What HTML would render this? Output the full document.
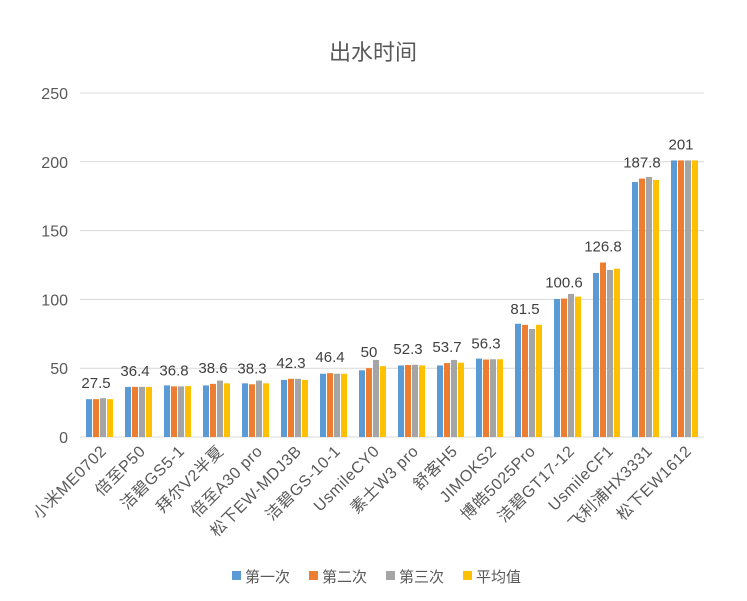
<!DOCTYPE html>
<html><head><meta charset="utf-8"><style>
body{margin:0;background:#fff;}
svg{display:block;font-family:"Liberation Sans","Noto Sans CJK SC",sans-serif;}
</style></head><body>
<svg id="chart" width="747" height="601">
<rect width="747" height="601" fill="#fff"/>
<text x="373" y="60" text-anchor="middle" font-size="22" fill="#595959">出水时间</text>
<g id="grid"></g><g id="bars"></g><g id="labels"></g><g id="xlabels"></g>
<g id="legend"></g>
</svg>
<script>
const categories=["小米ME0702","倍至P50","洁碧GS5-1","拜尔V2半夏","倍至A30 pro","松下EW-MDJ3B","洁碧GS-10-1","UsmileCY0","素士W3 pro","舒客H5","JIMOKS2","博皓5025Pro","洁碧GT17-12","UsmileCF1","飞利浦HX3331","松下EW1612"];
const series1=[27.5,36.4,37.5,37.5,39,41.5,46,48.5,52,52,57,82.3,100.3,119.2,185.3,201];
const series2=[27.5,36.4,36.8,38.6,38.3,42.3,46.4,50,52.3,53.7,56.3,81.5,100.6,126.8,187.8,201];
const series3=[28.2,36.4,36.8,41,41,42.3,46,56,52.5,56,56.5,78.5,104,121.4,189,201];
const series4=[27.5,36.4,37,39,39,41.5,46,51.5,52,54,56.5,81.5,102,122.3,186.8,201];
const dataLabels=["27.5","36.4","36.8","38.6","38.3","42.3","46.4","50","52.3","53.7","56.3","81.5","100.6","126.8","187.8","201"];
const yTicks=[0,50,100,150,200,250];
const seriesNames=["第一次","第二次","第三次","平均值"];
const colors=["#5B9BD5","#ED7D31","#A5A5A5","#FFC000"];
const NS="http://www.w3.org/2000/svg";
const X0=80,X1=704,Y0=437,Y1=93,YMAX=250;
const n=categories.length, step=(X1-X0)/n;
const y=v=>Y0-(v/YMAX)*(Y0-Y1);
const cx=i=>X0+step*(i+0.5);
function mk(t,a,p){const e=document.createElementNS(NS,t);for(const k in a)e.setAttribute(k,a[k]);p.appendChild(e);return e;}
const grid=document.getElementById('grid');
yTicks.forEach(t=>{
  const l=mk('line',{x1:X0,x2:X1,y1:y(t),y2:y(t),stroke:'#D9D9D9','stroke-width':1},grid);
  
  
  const tx=mk('text',{x:68,y:y(t)+6,'text-anchor':'end','font-size':16,fill:'#595959'},grid);
  tx.textContent=t;
  
  
});
const all=[series1,series2,series3,series4];
const bw=6,gap=1,gw=4*bw+3*gap;
const bars=document.getElementById('bars');
all.forEach((s,si)=>{s.forEach((v,i)=>{
  const x=cx(i)-gw/2+si*(bw+gap);
  const r=mk('rect',{x:x,y:y(v),width:bw,height:Y0-y(v),fill:colors[si]},bars);
  
  
});});
const labs=document.getElementById('labels');
dataLabels.forEach((t,i)=>{
  const tx=mk('text',{x:cx(i)-gw/2+bw+gap+bw/2,y:y(series2[i])-11,'text-anchor':'middle','font-size':15,fill:'#404040'},labs);
  tx.textContent=t;
  
  
});
const xl=document.getElementById('xlabels');
categories.forEach((c,i)=>{
  const x=cx(i)+8,yy=452;
  const tx=mk('text',{x:x,y:yy,'text-anchor':'end','font-size':16,'letter-spacing':0.6,fill:'#595959',transform:`rotate(-45 ${x} ${yy})`},xl);
  tx.textContent=c;
  
  
});
const lg=document.getElementById('legend');
const lx=[232,309,386,463];
seriesNames.forEach((nm,i)=>{
  const r=mk('rect',{x:lx[i],y:571,width:9,height:9,fill:colors[i]},lg);
  
  
  const t=mk('text',{x:lx[i]+13,y:582,'font-size':15,fill:'#595959'},lg);
  t.textContent=nm;
  
  
});
</script>
</body></html>
